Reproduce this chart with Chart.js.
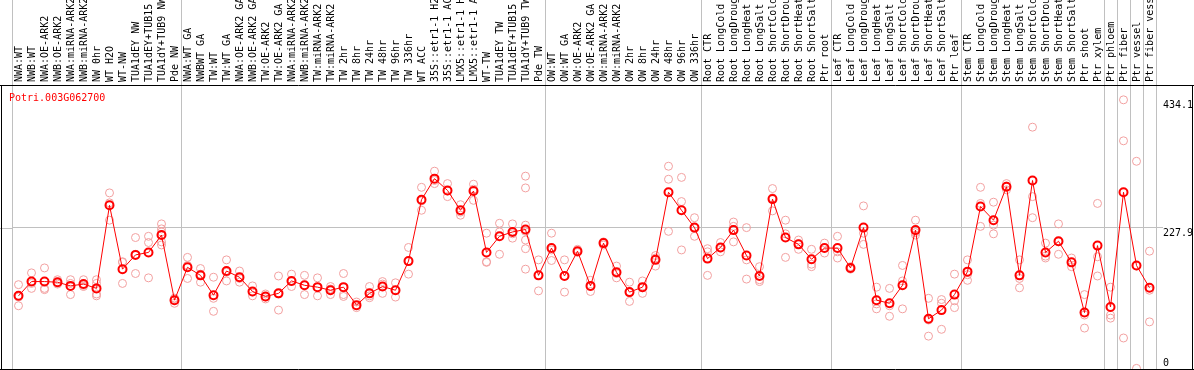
<!DOCTYPE html>
<html><head><meta charset="utf-8">
<script src="https://cdn.jsdelivr.net/npm/chart.js@4.4.1/dist/chart.umd.min.js"></script>
<style>html,body{margin:0;padding:0;background:#fff;}canvas{display:block;}</style>
</head><body>
<canvas id="c" width="1194" height="370"></canvas>
<script>
const geneId = "Potri.003G062700";

const categories = [
"NWA:WT","NWB:WT","NWA:OE-ARK2","NWB:OE-ARK2","NWA:miRNA-ARK2","NWB:miRNA-ARK2","NW 0hr","WT H2O","WT-NW","TUA1dEY NW","TUA1dEY+TUB15 NW","TUA1dY+TUB9 NW","Pde NW",
"NWA:WT GA","NWBWT GA","TW:WT","TW:WT GA","NWA:OE-ARK2 GA","NWB:OE-ARK2 GA","TW:OE-ARK2","TW:OE-ARK2 GA","NWA:miRNA-ARK2","NWB:miRNA-ARK2","TW:miRNA-ARK2","TW:miRNA-ARK2","TW 2hr","TW 8hr","TW 24hr","TW 48hr","TW 96hr","TW 336hr","WT ACC","35S::etr1-1 H2O","35S::etr1-1 ACC","LMX5::etr1-1 H2O","LMX5::etr1-1 ACC","WT-TW","TUA1dEY TW","TUA1dEY+TUB15 TW","TUA1dY+TUB9 TW","Pde TW",
"OW:WT","OW:WT GA","OW:OE-ARK2","OW:OE-ARK2 GA","OW:miRNA-ARK2","OW:miRNA-ARK2","OW 2hr","OW 8hr","OW 24hr","OW 48hr","OW 96hr","OW 336hr",
"Root CTR","Root LongCold","Root LongDrought","Root LongHeat","Root LongSalt","Root ShortCold","Root ShortDrought","Root ShortHeat","Root ShortSalt","Ptr root",
"Leaf CTR","Leaf LongCold","Leaf LongDrought","Leaf LongHeat","Leaf LongSalt","Leaf ShortCold","Leaf ShortDrought","Leaf ShortHeat","Leaf ShortSalt","Ptr leaf",
"Stem CTR","Stem LongCold","Stem LongDrought","Stem LongHeat","Stem LongSalt","Stem ShortCold","Stem ShortDrought","Stem ShortHeat","Stem ShortSalt","Ptr shoot",
"Ptr xylem","Ptr phloem","Ptr fiber","Ptr vessel","Ptr fiber vessel"
];

const means = [
118,141,141,140,134,137,130,264,161,184,188,216,111,
164,151,119,158,148,125,117,122,142,135,132,127,132,103,122,133,127,174,273,307,288,256,287,188,214,221,225,151,
195,150,190,134,203,156,124,132,176,285,256,228,
178,196,224,183,150,274,212,201,177,195,
195,163,228,111,106,135,224,81,95,120,
157,262,240,294,151,304,188,206,172,91,
199,100,285,167,131
];

const replicates = [
[136,116,102],[155,138,130],[163,130,128],[144,139,137],[144,138,120],[144,135,133],[144,138,121,118],[284,268,240],[173,172,138],[212,185,154],[214,204,147],[234,226,221,205,200],[114,114,106],
[180,167,146],[162,153,140],[148,114,93],[176,156,142],[158,146,140],[134,124,118],[121,116,113],[150,121,95],[153,141,133],[151,135,120],[147,132,118],[133,129,120],[154,120,117],[108,102,99],[133,118,115],[141,137,122],[139,127,116],[196,174,153],[293,271,256],[319,304,299],[299,287,278],[265,253,248],[298,290,272],[219,173,172],[235,221,185],[234,218,211],[311,292,232,222,208,194,161],[176,151,126],
[219,192,175],[176,150,124],[193,190,188],[143,133,125],[205,203,200],[166,154,147],[140,123,109],[142,131,122],[183,179,166],[327,306,222],[309,270,192],[244,227,214],
[194,189,151],[204,195,189],[237,230,205],[228,176,145],[165,144,141],[291,276,255],[240,218,180],[208,202,193],[193,169,165],[203,195,187],
[214,189,179],[165,162,161],[263,219,201],[132,105,97],[130,102,85],[167,142,97],[240,220,216],[114,79,53],[112,106,64],[153,110,99],
[176,152,143],[293,267,230],[269,232,218],[299,295,289],[176,146,131],[390,278,244],[203,182,179],[234,205,185],[179,172,165],[120,87,66],
[267,181,150],[132,87,82],[434.1,368,50],[335,166,1],[190,127,76]
];

const yTickValues = [0, 227.9, 434.1];
const groupBoundaries = [0, 13, 41, 53, 63, 73, 84, 85, 86, 87];

const GRID = '#c0c0c0';
const FONT = {family: 'DejaVu Sans Mono', size: 10};
const CLIP = {left: 10, right: 10, top: 0, bottom: 0};

const maxReps = Math.max(...replicates.map(r => r.length));
const repDatasets = [];
for (let k = 0; k < maxReps; k++) {
  repDatasets.push({
    label: 'rep' + (k + 1),
    data: replicates.map(r => (r[k] === undefined ? null : r[k])),
    showLine: false,
    pointRadius: 4,
    pointBorderWidth: 1,
    pointBorderColor: '#f2a0a0',
    pointBackgroundColor: 'rgba(0,0,0,0)',
    order: 2,
    clip: CLIP
  });
}

const framePlugin = {
  id: 'frame',
  afterDatasetsDraw(chart) {
    const {ctx, chartArea: a, width} = chart;
    const ys = chart.scales.y;
    ctx.save();
    ctx.lineWidth = 1;
    ctx.strokeStyle = GRID;
    const gy = Math.round(ys.getPixelForValue(yTickValues[1])) + 0.5;
    ctx.beginPath(); ctx.moveTo(0, gy); ctx.lineTo(a.left, gy); ctx.stroke();
    ctx.strokeStyle = '#000';
    ctx.beginPath();
    ctx.moveTo(0, a.top + 0.5); ctx.lineTo(width, a.top + 0.5);
    ctx.moveTo(1.5, a.top); ctx.lineTo(1.5, a.bottom + 1);
    ctx.moveTo(width - 1.5, a.top); ctx.lineTo(width - 1.5, a.bottom + 1);
    ctx.moveTo(0, a.bottom + 0.5); ctx.lineTo(width, a.bottom + 0.5);
    ctx.stroke();
    ctx.fillStyle = '#ff0000';
    ctx.font = '10px "DejaVu Sans Mono"';
    ctx.textBaseline = 'alphabetic';
    ctx.textAlign = 'left';
    ctx.fillText(chart.data.datasets[0].label, a.left - 3, a.top + 16);
    ctx.restore();
  }
};

new Chart(document.getElementById('c'), {
  type: 'line',
  data: {
    labels: categories,
    datasets: [{
      label: geneId,
      data: means,
      borderColor: '#ff0000',
      borderWidth: 1,
      pointRadius: 4,
      pointBorderWidth: 2,
      pointBorderColor: '#ff0000',
      pointBackgroundColor: 'rgba(0,0,0,0)',
      tension: 0,
      order: 1,
      clip: CLIP
    }, ...repDatasets]
  },
  options: {
    responsive: false,
    animation: false,
    events: [],
    layout: {autoPadding: false, padding: {left: 12, right: 0, top: 0, bottom: 1}},
    plugins: {legend: {display: false}, tooltip: {enabled: false}, title: {display: false}},
    scales: {
      x: {
        type: 'category',
        position: 'top',
        offset: true,
        grid: {
          offset: true,
          drawOnChartArea: true,
          drawTicks: true,
          tickLength: 85,
          lineWidth: 1,
          color: ctx => (ctx.type !== 'tick' || groupBoundaries.includes(ctx.index)) ? GRID : 'rgba(0,0,0,0)'
        },
        border: {display: false},
        ticks: {
          autoSkip: false,
          minRotation: 90,
          maxRotation: 90,
          padding: -82,
          labelOffset: 13,
          color: '#000',
          font: FONT
        },
        afterFit: s => { s.height = 85; s.paddingLeft = 0; s.paddingRight = 0; }
      },
      y: {
        position: 'right',
        min: 0,
        max: 458,
        afterBuildTicks: s => { s.ticks = yTickValues.map(v => ({value: v})); },
        afterFit: s => { s.width = 38; s.paddingTop = 0; s.paddingBottom = 0; },
        grid: {
          drawTicks: true,
          tickLength: 7,
          lineWidth: 1,
          color: ctx => (ctx.tick && ctx.tick.value === yTickValues[1]) ? GRID : 'rgba(0,0,0,0)'
        },
        border: {display: false},
        ticks: {
          autoSkip: false,
          padding: 0,
          color: '#000',
          font: FONT,
          callback: (v, i) => (i === 0 ? [String(v), ''] : ['', String(v)])
        }
      }
    }
  },
  plugins: [framePlugin]
});
</script>
</body></html>
